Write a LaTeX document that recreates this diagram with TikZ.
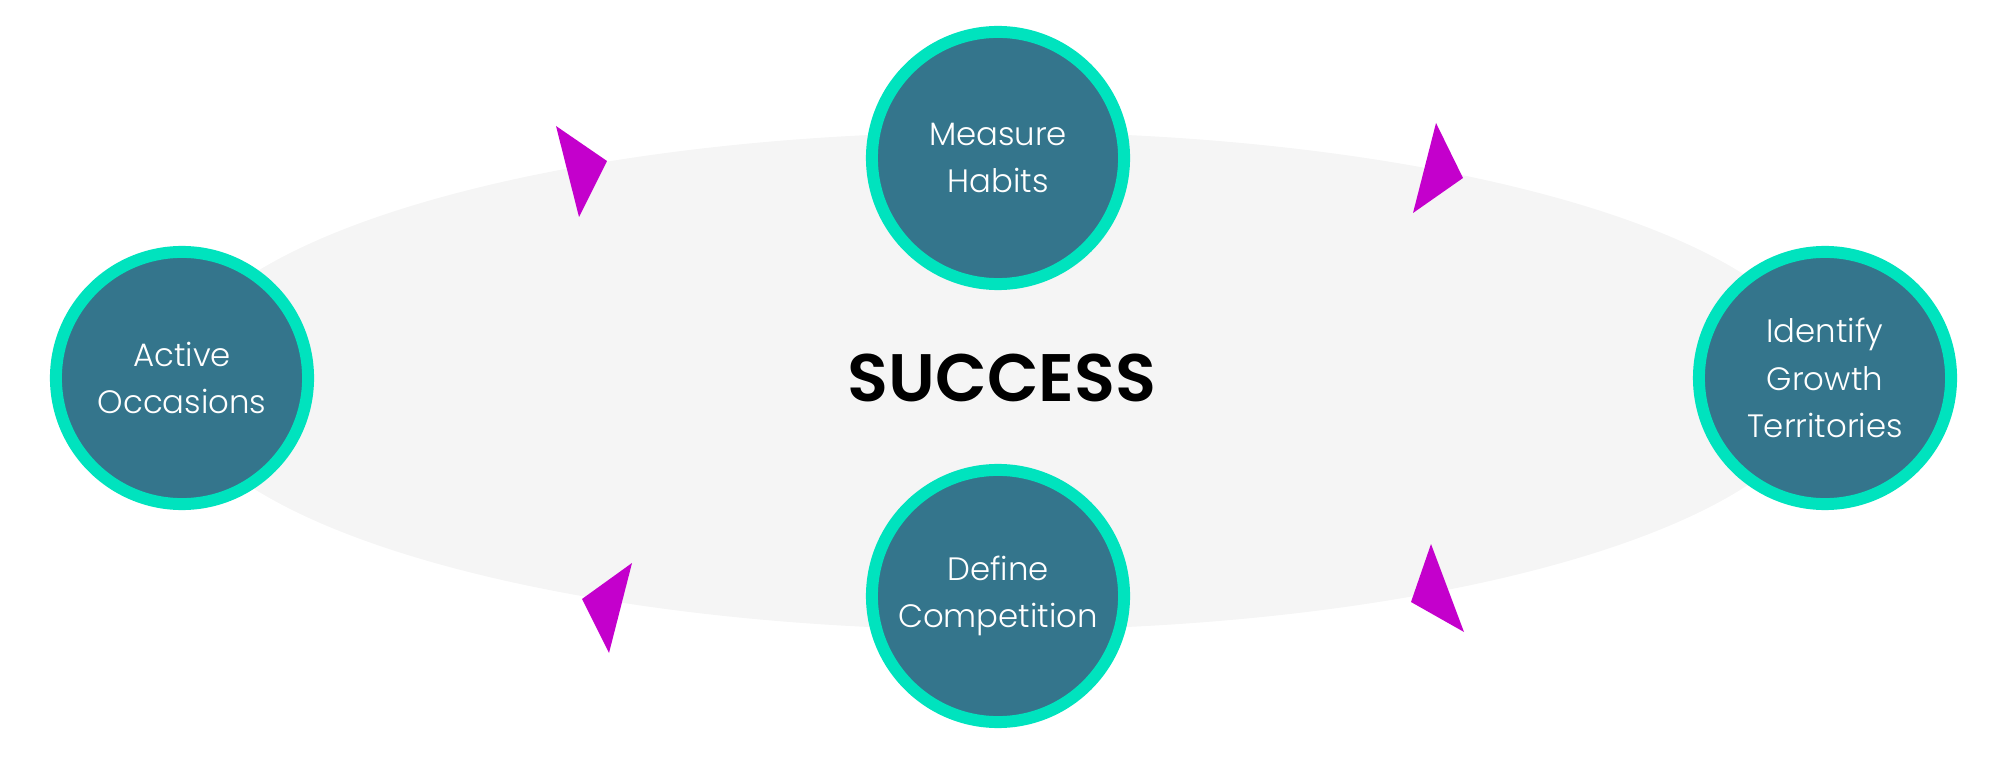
\documentclass[tikz,border=0pt]{standalone}
\usepackage{fontspec}
\setmainfont{Poppins}
\newfontfamily\ringfont{Poppins}[UprightFont={* Light}]
\newfontfamily\heavyfont{Poppins}[UprightFont={* SemiBold}]
\definecolor{ringteal}{RGB}{0,227,190}
\definecolor{discblue}{RGB}{52,117,140}
\definecolor{tipmagenta}{RGB}{196,0,204}
\definecolor{loopgray}{RGB}{245,245,245}

\begin{document}
\begin{tikzpicture}[x=0.01cm, y=0.01cm]
\tikzstyle{every node}+=[inner sep=0pt]
\tikzstyle{stage}=[circle, draw=ringteal, fill=discblue, line width=3.4pt, minimum size=2.52cm, text=white, align=center, font=\ringfont\fontsize{9.2}{13.4}\selectfont]
\useasboundingbox (0,0) rectangle (2000,-758);
\fill [loopgray] (998,-381) ellipse (825 and 249);
\node [stage] (active) at (182,-378) {Active\\Occasions};
\node [stage] (measure) at (998,-158) {Measure\\Habits};
\node [stage] (growth) at (1825,-378) {Identify\\Growth\\Territories};
\node [stage] (compete) at (998,-596) {Define\\Competition};
\draw (1002,-378) node [font=\heavyfont\fontsize{19.1}{21}\selectfont] (success) {SUCCESS};
\fill [tipmagenta] (556,-126) -- (607,-161) -- (579,-217) -- cycle;
\fill [tipmagenta] (1436,-123) -- (1463,-178) -- (1413,-213) -- cycle;
\fill [tipmagenta] (1431,-544) -- (1411,-602) -- (1464,-632) -- cycle;
\fill [tipmagenta] (632,-563) -- (582,-599) -- (609,-653) -- cycle;
\end{tikzpicture}
\end{document}
